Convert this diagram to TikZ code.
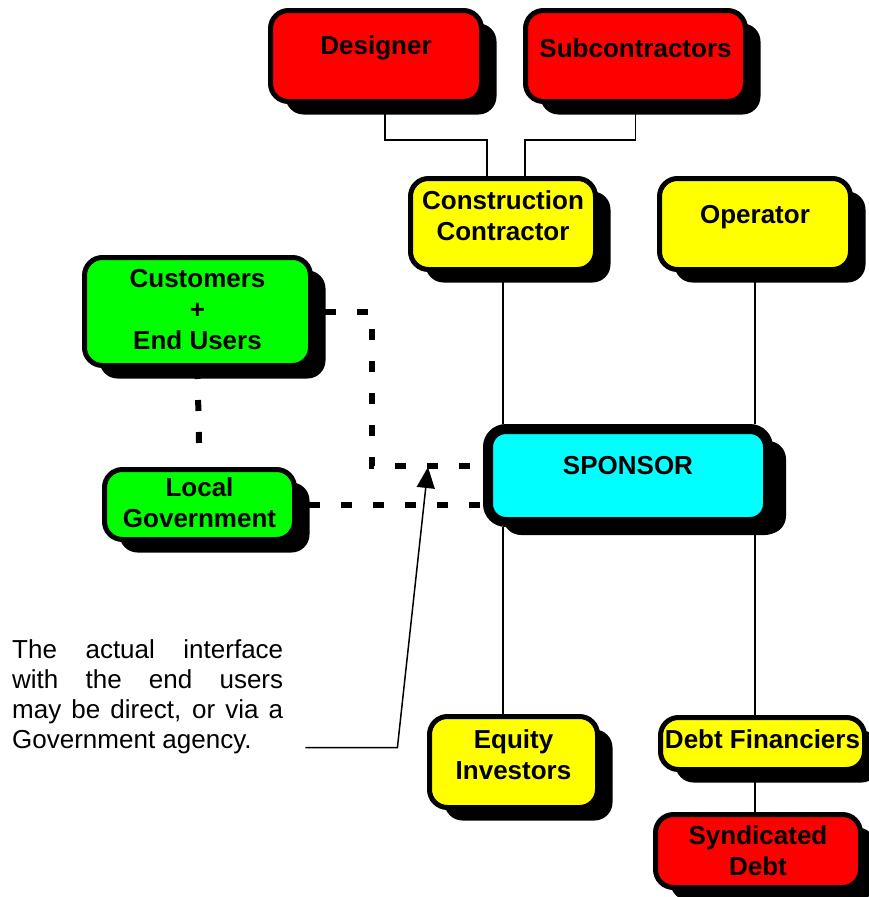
\documentclass[tikz,border=0pt]{standalone}
\usepackage{fontspec}
\setmainfont{Liberation Sans}
\usetikzlibrary{arrows.meta,shadows,positioning}
\definecolor{BoxRed}{RGB}{255,0,0}
\definecolor{BoxYellow}{RGB}{255,255,0}
\definecolor{BoxGreen}{RGB}{0,255,0}
\definecolor{BoxCyan}{RGB}{0,255,255}

\begin{document}
\begin{tikzpicture}[x=1pt,y=-1pt,>=Latex,
    box/.style={draw=black,line width=5pt,rounded corners=18pt,inner sep=0pt,
      drop shadow={shadow xshift=15pt,shadow yshift=-13pt,fill=black,opacity=1}},
    boxtext/.style={font=\bfseries\fontsize{26}{31}\selectfont,align=center},
    link/.style={line width=1.3pt},
    dashlink/.style={line width=6pt,dash pattern=on 11pt off 21pt},
    pointer/.style={line width=1.5pt,-{Triangle[length=21pt,width=18pt]}}]
  \useasboundingbox (0,0) rectangle (868,897);

  % contractors
  \node[box,fill=BoxRed,minimum width=211pt,minimum height=91pt,
    label={[boxtext,yshift=8pt]center:Designer}] (des) at (376,56) {};
  \node[box,fill=BoxRed,minimum width=220pt,minimum height=91pt,
    label={[boxtext,yshift=8pt]center:Subcontractors}] (sub) at (635.5,56) {};
  \node[box,fill=BoxYellow,minimum width=185pt,minimum height=91pt,
    label={[boxtext,yshift=8pt]center:{Construction\\Contractor}}] (con) at (503,224) {};
  \node[box,fill=BoxYellow,minimum width=191pt,minimum height=91pt,
    label={[boxtext,yshift=7pt]center:Operator}] (ope) at (755,224) {};

  % public side
  \node[box,fill=BoxGreen,minimum width=226pt,minimum height=108pt,
    label={[boxtext,yshift=2pt]center:{Customers\\+\\End Users}}] (cus) at (197.5,311.5) {};
  \node[box,fill=BoxGreen,minimum width=190pt,minimum height=70pt,
    label={[boxtext,yshift=2pt]center:{Local\\Government}}] (loc) at (199.5,504.5) {};

  \node[box,fill=BoxCyan,line width=10pt,minimum width=280pt,minimum height=93pt,
    drop shadow={shadow xshift=18pt,shadow yshift=-12pt,fill=black,opacity=1},
    label={[boxtext,yshift=10pt]center:SPONSOR}] (spo) at (628,475.5) {};

  % finance
  \node[box,fill=BoxYellow,minimum width=168pt,minimum height=91pt,
    label={[boxtext,yshift=7pt]center:{Equity\\Investors}}] (equ) at (513.5,762) {};
  \node[box,fill=BoxYellow,minimum width=204pt,minimum height=52pt,
    label={[boxtext,yshift=4pt]center:{Debt Financiers}}] (deb) at (762.5,743.5) {};
  \node[box,fill=BoxRed,minimum width=205pt,minimum height=73pt,
    label={[boxtext]center:{Syndicated\\Debt}}] (syn) at (758,851) {};

  % solid links
  \draw[link] ([xshift=9pt]des.south) -- ++(0,36) -| ([xshift=-16pt]con.north);
  \draw[link] (sub.south) -- ++(0,36) -| ([xshift=22pt]con.north);
  \draw[link] (con.south) -- (con.south |- spo.north);
  \draw[link] (ope.south) -- (ope.south |- spo.north);
  \draw[link] (con.south |- spo.south) -- (con.south |- equ.north);
  \draw[link] (ope.south |- spo.south) -- (ope.south |- deb.north);
  \draw[link] (ope.south |- deb.south) -- (ope.south |- syn.north);

  % dashed links
  \coordinate (bend) at (372,466);
  \draw[dashlink] ([xshift=12pt]cus.east) -| (bend) -- (bend -| spo.west);
  \draw[dashlink] ([xshift=12pt]loc.east) -- ([xshift=12pt]loc.east -| spo.west);
  \draw[dashlink,shorten >=14pt] (cus.south) -- (loc.north);

  % note
  \node[anchor=north west,inner sep=0pt,text width=271pt,align=justify,
    font=\fontsize{26}{30}\selectfont] (note) at (12,639)
    {The actual interface with the end users\linebreak may be direct, or via a\linebreak Government agency.};
  \coordinate (tip) at (428,467);
  \draw[pointer] ([shift={(22,-6)}]note.south east) -- ++(92,0) -- (tip);
\end{tikzpicture}
\end{document}
